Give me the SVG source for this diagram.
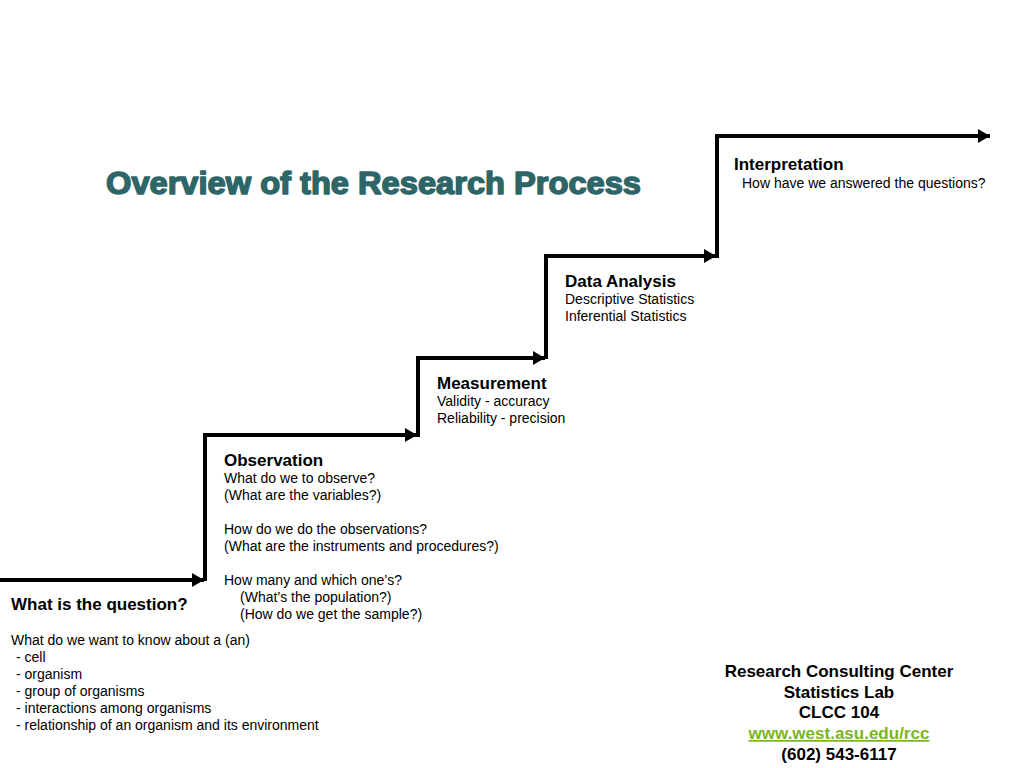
<svg xmlns="http://www.w3.org/2000/svg" width="1024" height="768" viewBox="0 0 1024 768">
<style>
.b{font-family:"Liberation Sans",Arial,sans-serif;font-weight:bold;font-size:17px;fill:#000}
.r{font-family:"Liberation Sans",Arial,sans-serif;font-size:14px;fill:#000}
.c{text-anchor:middle}
.step{fill:none;stroke:#000;stroke-width:4}
</style>
<defs>
<marker id="ah" markerUnits="userSpaceOnUse" markerWidth="14" markerHeight="16" refX="12" refY="8" orient="auto">
<path d="M0,1 L12,8 L0,15 z" fill="#000"/>
</marker>
</defs>
<rect width="1024" height="768" fill="#fff"/>
<text x="106" y="194" textLength="535" lengthAdjust="spacingAndGlyphs" style="font-family:'Liberation Sans',Arial,sans-serif;font-weight:bold;font-size:31px;fill:#2e6668;stroke:#2e6668;stroke-width:1.5;stroke-linejoin:round">Overview of the Research Process</text>
<g id="connectors">
<path class="step" d="M0,580 H204" marker-end="url(#ah)"/>
<path class="step" d="M205,581 V435 H417" marker-end="url(#ah)"/>
<path class="step" d="M418,437 V358 H545" marker-end="url(#ah)"/>
<path class="step" d="M546,359 V256 H716" marker-end="url(#ah)"/>
<path class="step" d="M717,258 V136 H990" marker-end="url(#ah)"/>
</g>
<g id="question">
<text class="b" x="11" y="610">What is the question?</text>
<text class="r" x="11" y="645">What do we want to know about a (an)</text>
<text class="r" x="16" y="662">- cell</text>
<text class="r" x="16" y="679">- organism</text>
<text class="r" x="16" y="696">- group of organisms</text>
<text class="r" x="16" y="713">- interactions among organisms</text>
<text class="r" x="16" y="730">- relationship of an organism and its environment</text>
</g>
<g id="observation">
<text class="b" x="224" y="466">Observation</text>
<text class="r" x="224" y="483">What do we to observe?</text>
<text class="r" x="224" y="500">(What are the variables?)</text>
<text class="r" x="224" y="534">How do we do the observations?</text>
<text class="r" x="224" y="551">(What are the instruments and procedures?)</text>
<text class="r" x="224" y="585">How many and which one’s?</text>
<text class="r" x="240" y="602">(What’s the population?)</text>
<text class="r" x="240" y="619">(How do we get the sample?)</text>
</g>
<g id="measurement">
<text class="b" x="437" y="389">Measurement</text>
<text class="r" x="437" y="406">Validity - accuracy</text>
<text class="r" x="437" y="423">Reliability - precision</text>
</g>
<g id="analysis">
<text class="b" x="565" y="287">Data Analysis</text>
<text class="r" x="565" y="304">Descriptive Statistics</text>
<text class="r" x="565" y="321">Inferential Statistics</text>
</g>
<g id="interpretation">
<text class="b" x="734" y="170">Interpretation</text>
<text class="r" x="742" y="188">How have we answered the questions?</text>
</g>
<g id="footer">
<text class="b c" x="839" y="677">Research Consulting Center</text>
<text class="b c" x="839" y="698">Statistics Lab</text>
<text class="b c" x="839" y="718">CLCC 104</text>
<text class="b c" x="839" y="739" style="fill:#7ab51d;text-decoration:underline">www.west.asu.edu/rcc</text>
<text class="b c" x="839" y="760">(602) 543-6117</text>
</g>
</svg>
